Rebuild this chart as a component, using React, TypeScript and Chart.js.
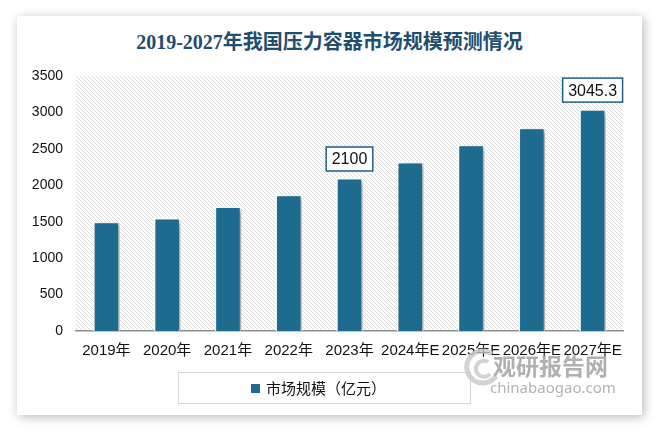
import React, { useEffect, useRef } from "react";
import { Chart, registerables } from "chart.js";

Chart.register(...registerables);

const TITLE = "2019-2027年我国压力容器市场规模预测情况";
const SERIES_NAME = "市场规模（亿元）";
const CATEGORIES = ["2019年", "2020年", "2021年", "2022年", "2023年", "2024年E", "2025年E", "2026年E", "2027年E"];
const VALUES = [1500, 1550, 1710, 1870, 2100, 2320, 2555, 2790, 3045.3];
const LABELED_INDICES = [4, 8];
const Y_MIN = 0;
const Y_MAX = 3500;
const Y_STEP = 500;

const BAR_COLOR = "#1D6B8F";
const TITLE_COLOR = "#1F4E6E";

function makePattern(ctx: CanvasRenderingContext2D) {
  const c = document.createElement("canvas");
  c.width = 4;
  c.height = 4;
  const p = c.getContext("2d")!;
  p.fillStyle = "#ffffff";
  p.fillRect(0, 0, 4, 4);
  p.fillStyle = "#dadada";
  for (let i = 0; i < 4; i++) p.fillRect(i, i, 1, 1);
  return ctx.createPattern(c, "repeat");
}

const hatchPlugin = {
  id: "hatch",
  beforeDraw(chart: any) {
    const { ctx, chartArea } = chart;
    const pat = makePattern(ctx);
    if (!pat) return;
    ctx.save();
    ctx.fillStyle = pat;
    ctx.fillRect(chartArea.left, chartArea.top, chartArea.right - chartArea.left, chartArea.bottom - chartArea.top);
    ctx.restore();
  },
};

const shadowPlugin = {
  id: "barShadow",
  beforeDatasetsDraw(chart: any) {
    const ctx = chart.ctx;
    ctx.save();
    ctx.shadowColor = "rgba(0,0,0,0.38)";
    ctx.shadowBlur = 5;
    ctx.shadowOffsetX = 3;
    ctx.shadowOffsetY = 2;
  },
  afterDatasetsDraw(chart: any) {
    chart.ctx.restore();
  },
};

const labelPlugin = {
  id: "boxLabels",
  afterDatasetsDraw(chart: any) {
    const ctx = chart.ctx;
    const meta = chart.getDatasetMeta(0);
    ctx.save();
    ctx.font = "16px 'Liberation Sans', Arial, sans-serif";
    ctx.textAlign = "center";
    ctx.textBaseline = "middle";
    LABELED_INDICES.forEach((i) => {
      const bar = meta.data[i];
      const text = String(VALUES[i]);
      const w = ctx.measureText(text).width + 11;
      const h = 24;
      const cx = bar.x;
      const bottom = bar.y - 7;
      ctx.fillStyle = "#ffffff";
      ctx.fillRect(cx - w / 2, bottom - h, w, h);
      ctx.strokeStyle = "#1F5F80";
      ctx.lineWidth = 1.5;
      ctx.strokeRect(cx - w / 2, bottom - h, w, h);
      ctx.fillStyle = "#111111";
      ctx.fillText(text, cx, bottom - h / 2 + 1);
    });
    ctx.restore();
  },
};

function ChartCanvas() {
  const ref = useRef<HTMLCanvasElement>(null);
  useEffect(() => {
    if (!ref.current) return;
    const chart = new Chart(ref.current, {
      type: "bar",
      data: {
        labels: CATEGORIES,
        datasets: [
          {
            label: SERIES_NAME,
            data: VALUES,
            backgroundColor: BAR_COLOR,
            borderColor: "#ffffff",
            borderWidth: 1.5,
            borderSkipped: "bottom",
            categoryPercentage: 0.84,
            barPercentage: 0.52,
          },
        ],
      },
      options: {
        animation: false,
        responsive: false,
        maintainAspectRatio: false,
        devicePixelRatio: 1,
        layout: { padding: { top: 76, left: 0, right: 36, bottom: 0 } },
        plugins: {
          legend: { display: false },
          title: { display: false },
          tooltip: { enabled: false },
        },
        scales: {
          x: {
            grid: { display: false, drawTicks: false },
            border: { display: true, color: "#8f8f8f", width: 1.5 },
            ticks: {
              autoSkip: false,
              maxRotation: 0,
              minRotation: 0,
              padding: 11,
              color: "#111111",
              font: { family: "'Liberation Sans', 'Noto Sans CJK SC', sans-serif", size: 15 },
            },
            afterFit: (s: any) => {
              s.height = 101;
            },
          },
          y: {
            min: Y_MIN,
            max: Y_MAX,
            grid: { display: false, drawTicks: false },
            border: { display: false },
            ticks: {
              stepSize: Y_STEP,
              padding: 13,
              color: "#111111",
              font: { family: "'Liberation Sans', sans-serif", size: 14 },
              callback: (v: any) => String(v),
            },
            afterFit: (s: any) => {
              s.width = 76;
            },
          },
        },
      },
      plugins: [hatchPlugin, shadowPlugin, labelPlugin],
    });
    return () => chart.destroy();
  }, []);
  return <canvas ref={ref} width={659} height={432} style={{ position: "absolute", left: 0, top: 0, width: 659, height: 432 }} />;
}

export default function App() {
  return (
    <div style={{ position: "fixed", left: 0, top: 0, width: 659, height: 432, background: "#ffffff", overflow: "hidden" }}>
      <div
        style={{
          position: "absolute",
          left: 17,
          top: 16,
          width: 625,
          height: 399,
          background: "#ffffff",
          boxShadow: "2px 2px 10px rgba(0,0,0,0.28)",
        }}
      />
      <div
        style={{
          position: "absolute",
          left: 17,
          width: 625,
          top: 29,
          textAlign: "center",
          color: TITLE_COLOR,
          fontFamily: "'Liberation Serif', 'Noto Sans CJK SC', serif",
          fontWeight: "bold",
          fontSize: 20,
          lineHeight: "26px",
        }}
      >
        {TITLE}
      </div>
      <ChartCanvas />
      <div
        style={{
          position: "absolute",
          left: 178,
          top: 372,
          width: 291,
          height: 30,
          border: "1px solid #d9d9d9",
          boxSizing: "content-box",
        }}
      >
        <div style={{ position: "absolute", left: 72, top: 11, width: 9, height: 9, background: BAR_COLOR }} />
        <div
          style={{
            position: "absolute",
            left: 87,
            top: 5,
            fontFamily: "'Noto Sans CJK SC', sans-serif",
            fontSize: 15,
            lineHeight: "20px",
            color: "#111111",
            whiteSpace: "nowrap",
          }}
        >
          {SERIES_NAME}
        </div>
      </div>
      <svg style={{ position: "absolute", left: 462, top: 346, width: 40, height: 46 }} viewBox="0 0 40 46">
        <path d="M30 8 A16 16 0 1 0 34 30" stroke="#c8c8c8" strokeWidth="5" fill="none" opacity="0.8" />
        <path d="M26 16 A8 8 0 1 0 28 28" stroke="#c8c8c8" strokeWidth="4" fill="none" opacity="0.8" />
      </svg>
      <div
        style={{
          position: "absolute",
          left: 493,
          top: 350,
          fontFamily: "'Noto Sans CJK SC', sans-serif",
          fontWeight: "bold",
          fontSize: 23,
          lineHeight: "30px",
          color: "rgba(150,150,150,0.75)",
          whiteSpace: "nowrap",
        }}
      >
        观研报告网
      </div>
      <div
        style={{
          position: "absolute",
          left: 490,
          top: 378,
          fontFamily: "'Noto Sans', sans-serif",
          fontSize: 15,
          lineHeight: "18px",
          color: "rgba(160,160,160,0.8)",
          whiteSpace: "nowrap",
        }}
      >
        chinabaogao.com
      </div>
    </div>
  );
}
